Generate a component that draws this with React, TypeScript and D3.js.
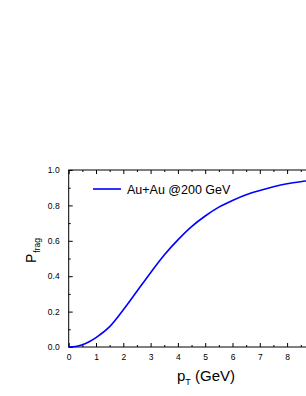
import { useEffect, useRef } from "react";
import * as d3 from "d3";

// values
const ptValues = [0, 0.25, 0.5, 0.75, 1, 1.5, 2, 2.5, 3, 3.5, 4, 4.5, 5, 5.5, 6, 6.5, 7, 7.5, 8, 8.5, 9, 9.5, 10];
const pFrag = [0, 0.003, 0.013, 0.03, 0.053, 0.115, 0.21, 0.315, 0.42, 0.52, 0.605, 0.68, 0.74, 0.79, 0.828, 0.86, 0.884, 0.905, 0.922, 0.934, 0.943, 0.95, 0.956];
const xTicks = [0, 1, 2, 3, 4, 5, 6, 7, 8, 9, 10];
const yTicks = [0, 0.2, 0.4, 0.6, 0.8, 1.0];
const legendLabel = "Au+Au @200 GeV";

const App = () => {
    const chartRef = useRef<SVGSVGElement>(null);

    useEffect(() => {
        const svg = d3.select(chartRef.current);
        svg.selectAll("*").remove();

        const font = "'Liberation Sans', Arial, sans-serif";
        const left = 68.7, top = 170, bottom = 347;
        const unit = 27.3;

        const x = d3.scaleLinear().domain([0, 10]).range([left, left + 10 * unit]);
        const y = d3.scaleLinear().domain([0, 1]).range([bottom, top]);

        const g = svg.append("g");

        // frame
        g.append("rect")
            .attr("x", x(0)).attr("y", y(1))
            .attr("width", x(10) - x(0)).attr("height", y(0) - y(1))
            .attr("fill", "none").attr("stroke", "#000").attr("stroke-width", 1);

        // bottom axis, inward ticks (labels past the window edge are not shown)
        const xb = g.append("g").attr("transform", `translate(0,${y(0)})`)
            .call(d3.axisBottom(x).tickValues(xTicks).tickSize(-4).tickPadding(7)
                .tickFormat((d) => (+d <= 8 ? d3.format("d")(+d) : "")));
        xb.select(".domain").remove();
        xb.selectAll("text").attr("font-family", font).attr("font-size", 8.5).attr("fill", "#000");
        g.append("g").attr("transform", `translate(0,${y(0)})`)
            .call(d3.axisBottom(x).tickValues(d3.range(0.5, 10, 1)).tickSize(-2).tickFormat(() => ""))
            .select(".domain").remove();

        // top axis
        g.append("g").attr("transform", `translate(0,${y(1)})`)
            .call(d3.axisTop(x).tickValues(xTicks).tickSize(-4).tickFormat(() => ""))
            .select(".domain").remove();
        g.append("g").attr("transform", `translate(0,${y(1)})`)
            .call(d3.axisTop(x).tickValues(d3.range(0.5, 10, 1)).tickSize(-2).tickFormat(() => ""))
            .select(".domain").remove();

        // left axis
        const yl = g.append("g").attr("transform", `translate(${x(0)},0)`)
            .call(d3.axisLeft(y).tickValues(yTicks).tickSize(-4).tickPadding(9).tickFormat(d3.format(".1f")));
        yl.select(".domain").remove();
        yl.selectAll("text").attr("font-family", font).attr("font-size", 8.5).attr("fill", "#000");
        g.append("g").attr("transform", `translate(${x(0)},0)`)
            .call(d3.axisLeft(y).tickValues(d3.range(0.1, 1, 0.2)).tickSize(-2).tickFormat(() => ""))
            .select(".domain").remove();

        // curve
        const line = d3.line<number>()
            .x((_, i) => x(ptValues[i]))
            .y((d) => y(d))
            .curve(d3.curveCatmullRom.alpha(0.5));
        g.append("path")
            .datum(pFrag)
            .attr("d", line)
            .attr("fill", "none")
            .attr("stroke", "#0000ff")
            .attr("stroke-width", 1.6);

        // legend
        g.append("line")
            .attr("x1", 93).attr("x2", 121).attr("y1", 189).attr("y2", 189)
            .attr("stroke", "#0000ff").attr("stroke-width", 1.6);
        g.append("text")
            .attr("x", 127).attr("y", 193.5)
            .attr("font-family", font).attr("font-size", 12.5)
            .text(legendLabel);

        // x title
        const xt = g.append("text")
            .attr("x", 177).attr("y", 381)
            .attr("font-family", font).attr("font-size", 15);
        xt.append("tspan").text("p");
        xt.append("tspan").attr("font-size", 9).attr("dy", 4).text("T");
        xt.append("tspan").attr("dy", -4).text(" (GeV)");

        // y title, subscript "frag"
        const yt = g.append("text")
            .attr("transform", `translate(36,263) rotate(-90)`)
            .attr("font-family", font).attr("font-size", 14);
        yt.append("tspan").text("P");
        yt.append("tspan").attr("font-size", 8.5).attr("dy", 3.5).attr("dx", 1).text("frag");
    }, []);

    return (
        <svg
            ref={chartRef}
            width={306}
            height={396}
            style={{ position: "absolute", left: 0, top: 0, background: "#fff" }}
        ></svg>
    );
};

export default App;
